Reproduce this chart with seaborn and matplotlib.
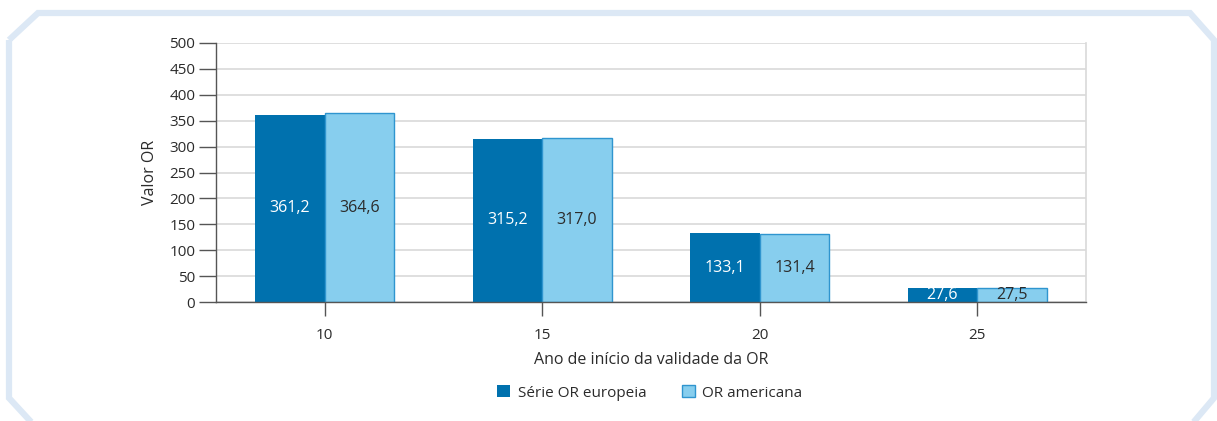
import matplotlib
matplotlib.use("Agg")
import matplotlib.pyplot as plt
from matplotlib.patches import Polygon, Patch
import seaborn as sns
import pandas as pd

# Data
anos = ["10", "15", "20", "25"]
serie_europeia = [361.2, 315.2, 133.1, 27.6]
or_americana = [364.6, 317.0, 131.4, 27.5]
series_nomes = ["Série OR europeia", "OR americana"]
y_ticks = [0, 50, 100, 150, 200, 250, 300, 350, 400, 450, 500]

df = pd.DataFrame({
    "ano": anos * 2,
    "valor": serie_europeia + or_americana,
    "serie": [series_nomes[0]] * len(anos) + [series_nomes[1]] * len(anos),
})

sns.set_theme(style="white")
plt.rcParams["font.family"] = ["Open Sans", "DejaVu Sans"]

cor_escura = "#0071ae"
cor_clara = "#87ceee"
borda_clara = "#2f95cf"
texto = "#2b2b2b"

fig = plt.figure(figsize=(12.17, 4.21), dpi=100)
ax = fig.add_axes([216 / 1217, 1 - 302 / 421, (1086 - 216) / 1217, (302 - 43) / 421])

sns.barplot(data=df, x="ano", y="valor", hue="serie", order=anos,
            hue_order=series_nomes, palette=[cor_escura, cor_clara],
            width=0.64, gap=0, saturation=1, legend=False, ax=ax)

# edges: dark bars flat, light bars with a thin blue outline
n = len(anos)
for i, p in enumerate(ax.patches):
    if i < n:
        p.set_edgecolor(cor_escura)
        p.set_linewidth(0)
    else:
        p.set_edgecolor(borda_clara)
        p.set_linewidth(1.0)

# value labels in the middle of each bar, decimal comma
for cont, cor in zip(ax.containers, ["white", texto]):
    labels = [f"{v:.1f}".replace(".", ",") for v in cont.datavalues]
    ax.bar_label(cont, labels=labels, label_type="center", color=cor, fontsize=11.5)

ax.set_ylim(0, 500)
ax.set_yticks(y_ticks)
ax.set_xlim(-0.5, n - 0.5)
ax.yaxis.grid(True, color="#d9d9d9", linewidth=1.2)
ax.set_axisbelow(True)

ax.spines["top"].set_visible(False)
ax.spines["right"].set_color("#d9d9d9")
ax.spines["right"].set_linewidth(1.2)
ax.spines["left"].set_color("#555555")
ax.spines["bottom"].set_color("#555555")
ax.spines["left"].set_linewidth(1.0)
ax.spines["bottom"].set_linewidth(1.0)

ax.tick_params(axis="y", which="major", direction="out", length=12, width=1,
               color="#555555", labelsize=11, labelcolor=texto, pad=3, left=True)
ax.tick_params(axis="x", which="major", direction="out", length=10, width=1,
               color="#555555", labelsize=11, labelcolor=texto, pad=9, bottom=True)

ax.set_xlabel("Ano de início da validade da OR", fontsize=11.5, color=texto, labelpad=6)
ax.set_ylabel("Valor OR", fontsize=11.5, color=texto, labelpad=8)

handles = [Patch(facecolor=cor_escura, edgecolor=cor_escura, linewidth=0),
           Patch(facecolor=cor_clara, edgecolor=borda_clara, linewidth=1)]
fig.legend(handles, series_nomes, loc="center", bbox_to_anchor=(650 / 1217, 1 - 393 / 421),
           ncol=2, frameon=False, fontsize=11, handlelength=0.85, handleheight=0.85,
           handletextpad=0.5, columnspacing=2.3, labelcolor=texto)

# light blue octagonal frame around the figure
W, H = 1217, 421
pts = [(9, 40), (38, 13), (1190, 13), (1214, 40), (1214, 398), (1192, 424),
       (33, 424), (9, 398)]
frame = Polygon([(x / W, 1 - y / H) for x, y in pts], closed=True, fill=False,
                edgecolor="#dce8f5", linewidth=4.5, transform=fig.transFigure,
                clip_on=False, joinstyle="miter")
fig.patches.append(frame)

fig.savefig("out.png", dpi=100)
